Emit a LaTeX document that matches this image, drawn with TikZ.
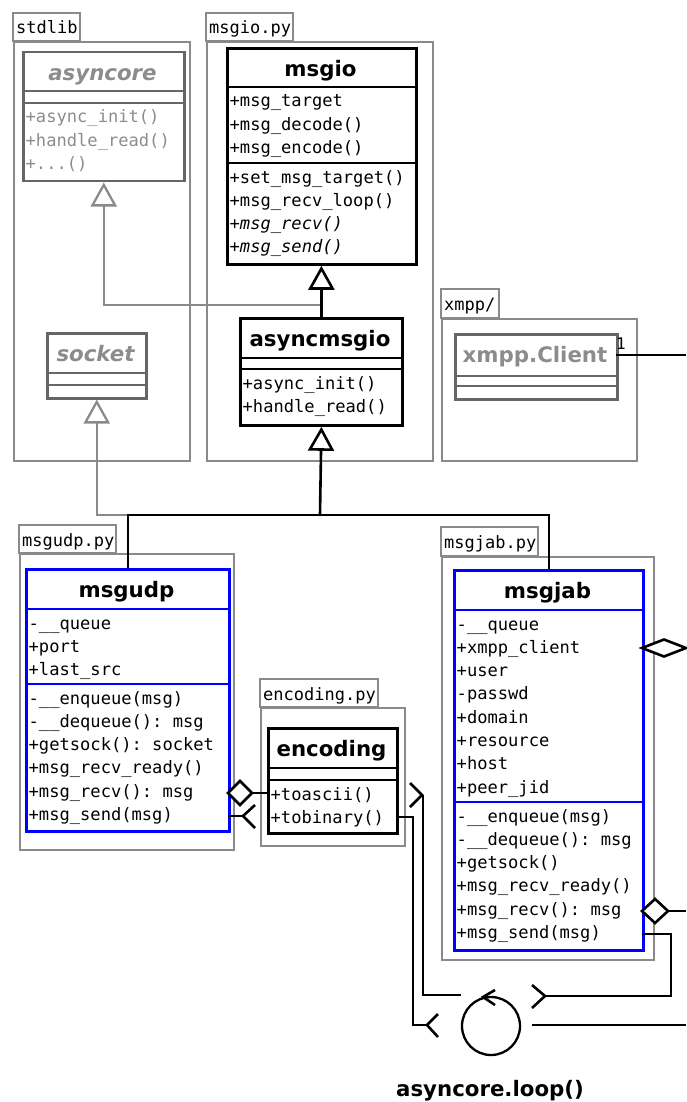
\documentclass[tikz,border=0pt]{standalone}
\usepackage{fontspec}
\setmainfont{DejaVu Sans}
\setmonofont{DejaVu Sans Mono}
\usetikzlibrary{arrows.meta}
\definecolor{pkggray}{HTML}{8A8A8A}
\definecolor{clsgray}{HTML}{666666}
\definecolor{txtgray}{HTML}{8C8C8C}
\definecolor{umlblue}{HTML}{0000FF}
\tikzset{
  pkgbox/.style={draw=pkggray, line width=2.3pt, inner sep=0pt},
  pkglabel/.style={anchor=base west, inner sep=0pt, font=\ttfamily\fontsize{17}{20}\selectfont},
  clstitle/.style={anchor=base, inner sep=0pt, font=\bfseries\fontsize{21.3}{25}\selectfont},
  graytitle/.style={anchor=base, inner sep=0pt, text=txtgray, font=\bfseries\itshape\fontsize{21.3}{25}\selectfont},
  member/.style={anchor=base west, inner sep=0pt, font=\ttfamily\fontsize{17.1}{20}\selectfont},
  blackcls/.style={draw=black, line width=2.8pt},
  bluecls/.style={draw=umlblue, line width=2.6pt},
  graycls/.style={draw=clsgray, line width=2.5pt},
  conn/.style={draw=black, line width=2.6pt, line join=miter},
  inh/.style={conn, -{Triangle[open, length=24pt, width=26pt]}},
  ginh/.style={draw=pkggray, line width=2.3pt, -{Triangle[open, length=24pt, width=26pt]}},
}
\newcommand\umlclass[8]{%
  \node[#8, anchor=north west, inner sep=0pt, minimum width={(#4)-(#2)}, minimum height={(#5)-(#3)}] (#1) at (#2,#3) {};
  \draw[#8] (#2,#6) -- (#4,#6) (#2,#7) -- (#4,#7);
}
\newcommand\pkg[8]{%
  \draw[pkgbox] (#3,#4) rectangle (#5,#6);
  \node[pkgbox, anchor=north west, minimum width={(#7)-(#3)}, minimum height={(#8)-(#6)}] (#1) at (#3,#6) {};
  \node[pkglabel] (#1-label) at ({#3+3},{#4+21}) {#2};
}
\newcommand\members[5]{%
  \foreach \txt [count=\i] in {#5} {
    \node[member, #2] (#1\i) at ({#3+3.5},{#4+20+(\i-1)*23.3}) {\txt};
  }
}
\begin{document}
\begin{tikzpicture}[x=1pt, y=-1pt]
\useasboundingbox (0,0) rectangle (686,1102);
% packages
\pkg{stdlib}{stdlib}{13}{13}{80}{41}{189}{460}
\pkg{msgiopy}{msgio.py}{206}{13}{293}{41}{432}{460}
\pkg{xmpppkg}{xmpp/}{441}{289}{499}{318}{636}{460}
\pkg{msgudppy}{msgudp.py}{19}{525}{116}{553}{233}{849}
\pkg{msgjabpy}{msgjab.py}{441}{527}{538}{556}{653}{959}
\pkg{encodingpy}{encoding.py}{260}{679}{378}{707}{404}{845}
% classes
\umlclass{asyncore}{22}{51}{183}{180}{91}{103}{graycls}
\node[graytitle] (asyncore-t) at (102.5,80.5) {asyncore};
\members{asyncore-o}{text=txtgray}{22}{103}{+async\_init(), +handle\_read(), +{.}{.}{.}()}

\umlclass{msgio}{226}{47}{415}{263}{87}{163}{blackcls}
\node[clstitle] (msgio-t) at (320.5,76.5) {msgio};
\members{msgio-a}{}{226}{87}{+msg\_target, +msg\_decode(), +msg\_encode()}
\members{msgio-o}{}{226}{163}{+set\_msg\_target(), +msg\_recv\_loop(), {\itshape +msg\_recv()}, {\itshape +msg\_send()}}

\umlclass{asyncmsgio}{239}{317}{401}{424}{358}{369}{blackcls}
\node[clstitle] (asyncmsgio-t) at (320,346.5) {asyncmsgio};
\members{asyncmsgio-o}{}{239}{369}{+async\_init(), +handle\_read()}

\umlclass{socket}{46}{332}{145}{397}{373}{385}{graycls}
\node[graytitle] (socket-t) at (95.5,361.5) {socket};

\umlclass{xmppc}{454}{333}{616}{398}{376}{386}{graycls}
\node[graytitle, font=\bfseries\fontsize{21.3}{25}\selectfont] (xmppc-t) at (535,362.5) {xmpp.Client};

\umlclass{msgudp}{25}{568}{228}{830}{609}{684}{bluecls}
\node[clstitle] (msgudp-t) at (126.5,597.5) {msgudp};
\members{msgudp-a}{}{25}{609}{-\_\_queue, +port, +last\_src}
\members{msgudp-o}{}{25}{684}{-\_\_enqueue(msg), -\_\_dequeue(): msg, +getsock(): socket, +msg\_recv\_ready(), +msg\_recv(): msg, +msg\_send(msg)}

\umlclass{msgjab}{453}{569}{642}{949}{610}{802}{bluecls}
\node[clstitle] (msgjab-t) at (547.5,598.5) {msgjab};
\members{msgjab-a}{}{453}{610}{-\_\_queue, +xmpp\_client, +user, -passwd, +domain, +resource, +host, +peer\_jid}
\members{msgjab-o}{}{453}{802}{-\_\_enqueue(msg), -\_\_dequeue(): msg, +getsock(), +msg\_recv\_ready(), +msg\_recv(): msg, +msg\_send(msg)}

\umlclass{encoding}{267}{727}{396}{832}{768}{780}{blackcls}
\node[clstitle] (encoding-t) at (331.5,756.5) {encoding};
\members{encoding-o}{}{267}{780}{+toascii(), +tobinary()}

% inheritance
\coordinate (jA) at (320,305);
\coordinate (jB) at (320,515);
\coordinate (jC) at (126.5,515);
\draw[ginh] (jA) -| (asyncore.south);
\draw[inh] (asyncmsgio.north) -- (asyncmsgio.north |- msgio.south);
\draw[ginh] (jC) -| (socket.south);
\draw[conn] (msgudp.north) |- (jB) -| (msgjab.north);
\draw[inh] (jB) -- (asyncmsgio.south);

% xmpp client association
\coordinate (xS) at (616,355);
\coordinate (xE) at (686,355);
\draw[conn, line width=2.3pt] (xS) -- (xE);
\node[anchor=base west, inner sep=0pt, font=\ttfamily\fontsize{16}{18}\selectfont] (mult1) at (616,349) {1};

% msgjab aggregations
\coordinate (jabX) at (642,648);
\draw[conn, fill=white] (jabX) -- ++(22,-8.5) -- ++(22,8.5) -- ++(-22,8.5) -- cycle;
\coordinate (jabR) at (642,911);
\coordinate (jabRD) at (668,911);
\coordinate (jabRE) at (686,911);
\draw[conn, fill=white] (jabR) -- ++(13,-12) -- ++(13,12) -- ++(-13,12) -- cycle;
\draw[conn] (jabRD) -- (jabRE);

% msgudp to encoding
\coordinate (udpR) at (228,793);
\coordinate (udpRD) at (252,793);
\coordinate (encA) at (267,793);
\draw[conn, fill=white] (udpR) -- ++(12,-12) -- ++(12,12) -- ++(-12,12) -- cycle;
\draw[conn] (udpRD) -- (encA);
\coordinate (udpS) at (228,816);
\coordinate (udpSE) at (243,816);
\draw[conn] (udpS) -- (udpSE);
\draw[conn] (255,805) -- (udpSE) -- (255,828);

% encoding to loop
\node[circle, draw, line width=2.3pt, minimum size=58pt, inner sep=0pt] (loop) at (491,1026) {};
\draw[conn] (495,990) -- (483,997) -- (495,1005);
\coordinate (encT) at (422,795);
\draw[conn] (410,783) -- (encT) -- (410,807);
\coordinate (loopL1) at (461,995);
\draw[conn] (423,795) |- (loopL1);
\coordinate (encB) at (396,817);
\coordinate (loopL2) at (427,1025);
\draw[conn] (encB) -- (413,817) |- (loopL2);
\draw[conn] (438,1014) -- (loopL2) -- (438,1037);

% msgjab to loop
\coordinate (jabS) at (642,934);
\coordinate (loopR1) at (545,996);
\draw[conn] (jabS) -- (671,934) |- (loopR1);
\draw[conn] (532,985) -- (loopR1) -- (532,1008);
\coordinate (loopR2) at (532,1025);
\coordinate (loopRE) at (686,1025);
\draw[conn] (loopR2) -- (loopRE);

\node[clstitle] (looplabel) at (490,1096) {asyncore.loop()};
\end{tikzpicture}
\end{document}
